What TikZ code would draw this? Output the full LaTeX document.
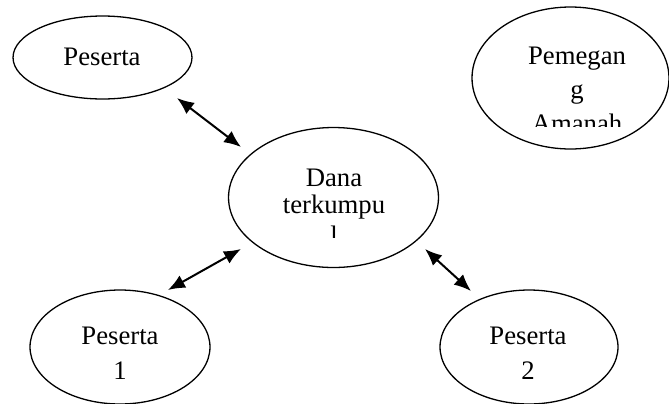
\documentclass[tikz,border=0pt]{standalone}
\usepackage{fontspec}
\setmainfont{Liberation Serif}
\usetikzlibrary{shapes.geometric,arrows.meta}
\tikzset{
    bubble/.style={ellipse, draw, inner sep=0mm, line width=0.026cm},
    txt/.style={inner sep=0mm, align=center, anchor=base,
        font=\fontsize{15.2pt}{17.6pt}\selectfont},
    txtwide/.style={txt, font=\fontsize{15.2pt}{19.9pt}\selectfont},
    biarrow/.style={line width=0.04cm,
        {Latex[length=0.34cm,width=0.28cm]}-{Latex[length=0.34cm,width=0.28cm]}}
}

\begin{document}
\begin{tikzpicture}[x=0.02cm, y=-0.02cm]
        \useasboundingbox (0,0) rectangle (669,403);
        \node (e0) [bubble, minimum width=3.58cm, minimum height=1.66cm] at (102.5,57.5) {};
        \node (e1) [bubble, minimum width=3.94cm, minimum height=2.84cm] at (570.5,78) {};
        \node (e2) [bubble, minimum width=4.2cm, minimum height=2.8cm] at (333.5,197.5) {};
        \node (e3) [bubble, minimum width=3.6cm, minimum height=2.28cm] at (120,347) {};
        \node (e4) [bubble, minimum width=3.56cm, minimum height=2.28cm] at (529,347) {};
        \node (t0) [txt] at (102,65) {Peserta};
        \begin{scope}
                \clip (460,20) rectangle (660,126);
                \node (t1) [txtwide, font=\fontsize{15.2pt}{19.3pt}\selectfont] at (577,132) {Pemegan\\g\\Amanah};
        \end{scope}
        \begin{scope}
                \clip (240,140) rectangle (430,237);
                \node (t2) [txt] at (334,244) {Dana\\[-2.3pt]terkumpu\\l};
        \end{scope}
        \node (t3) [txtwide] at (120,379) {Peserta\\1};
        \node (t4) [txtwide] at (528,379) {Peserta\\2};
        \coordinate (a0) at (177,98);
        \coordinate (b0) at (241,147);
        \coordinate (a1) at (168,290);
        \coordinate (b1) at (241,249);
        \coordinate (a2) at (425,249);
        \coordinate (b2) at (471,291);
        \draw (a0) edge [biarrow] (b0);
        \draw (a1) edge [biarrow] (b1);
        \draw (a2) edge [biarrow] (b2);
\end{tikzpicture}
\end{document}
